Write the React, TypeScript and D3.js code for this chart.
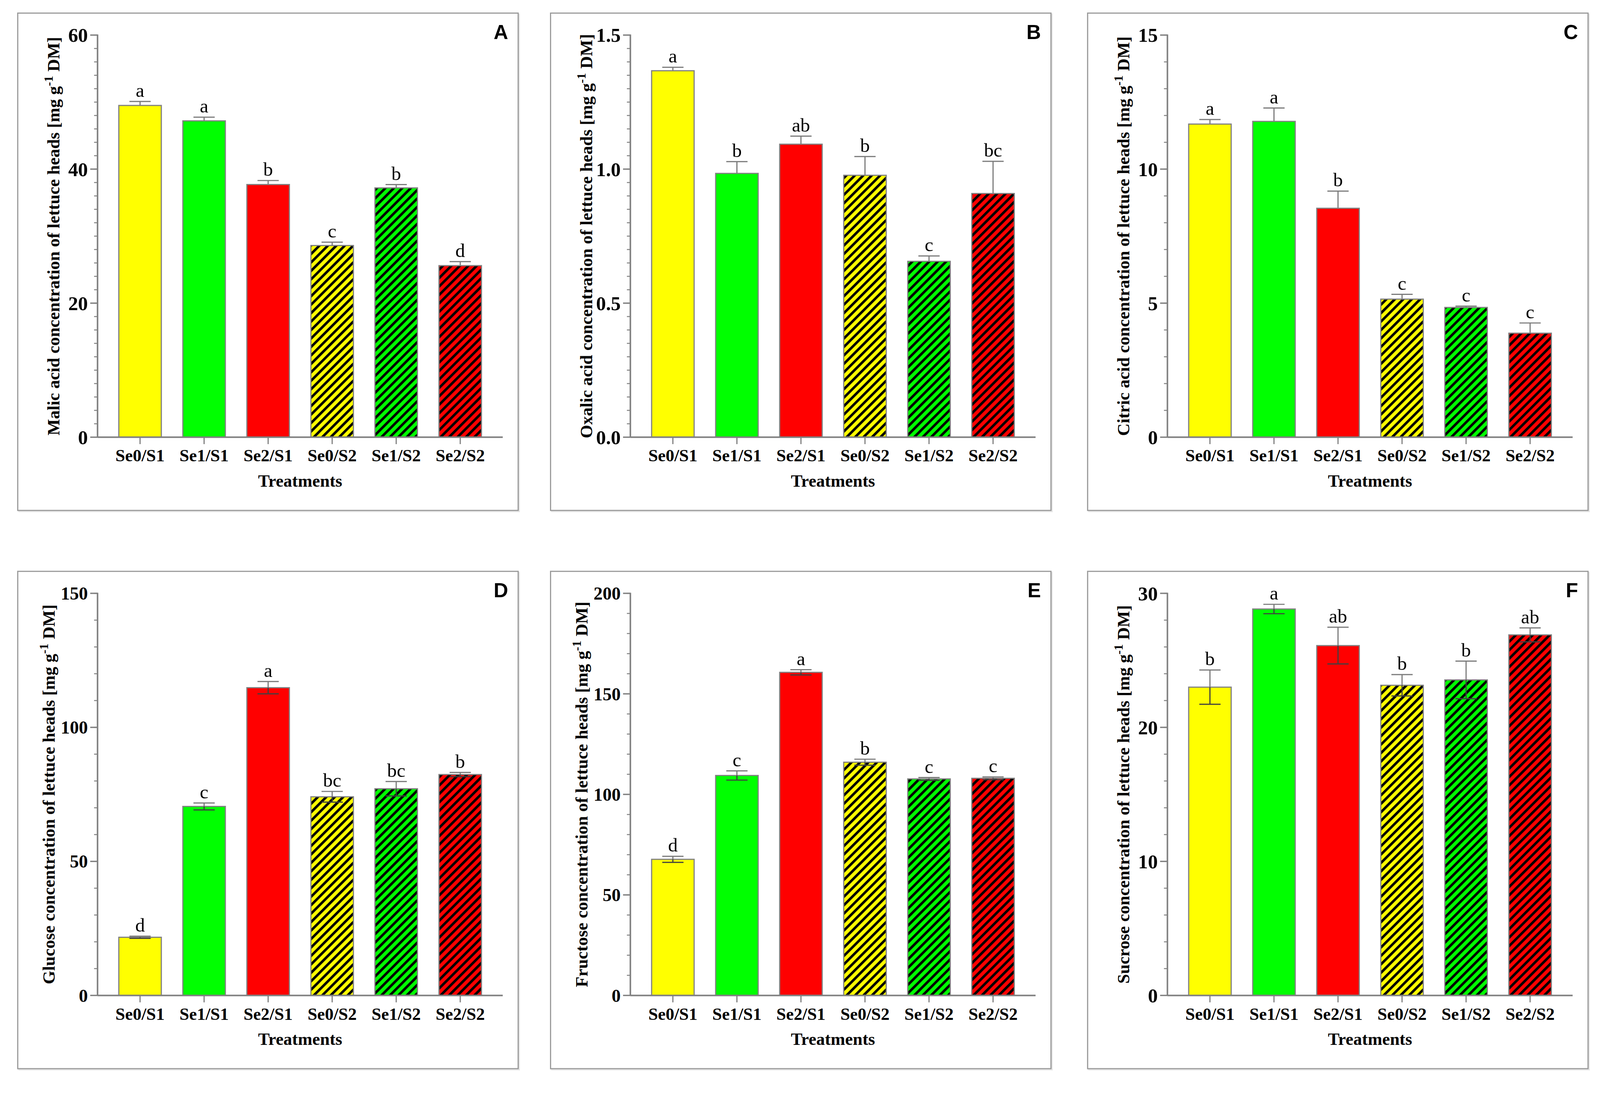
import React from 'react';
import * as d3 from 'd3';

const treatments = ['Se0/S1', 'Se1/S1', 'Se2/S1', 'Se0/S2', 'Se1/S2', 'Se2/S2'];
const barColors = ['#ffff00', '#00ff00', '#ff0000', '#ffff00', '#00ff00', '#ff0000'];
const hatched = [false, false, false, true, true, true];

const malicMean = [49.5, 47.2, 37.7, 28.6, 37.2, 25.6];
const malicErr = [0.6, 0.55, 0.6, 0.5, 0.5, 0.6];
const malicLetters = ['a', 'a', 'b', 'c', 'b', 'd'];

const oxalicMean = [1.367, 0.984, 1.093, 0.977, 0.656, 0.909];
const oxalicErr = [0.013, 0.044, 0.03, 0.07, 0.02, 0.12];
const oxalicLetters = ['a', 'b', 'ab', 'b', 'c', 'bc'];

const citricMean = [11.68, 11.78, 8.54, 5.15, 4.84, 3.88];
const citricErr = [0.17, 0.5, 0.64, 0.18, 0.05, 0.38];
const citricLetters = ['a', 'a', 'b', 'c', 'c', 'c'];

const glucoseMean = [21.7, 70.5, 114.8, 74.1, 77.1, 82.4];
const glucoseErr = [0.4, 1.3, 2.3, 2.0, 2.7, 0.8];
const glucoseLetters = ['d', 'c', 'a', 'bc', 'bc', 'b'];

const fructoseMean = [67.7, 109.4, 160.7, 116.0, 107.7, 108.0];
const fructoseErr = [1.5, 2.3, 1.3, 1.5, 0.7, 0.7];
const fructoseLetters = ['d', 'c', 'a', 'b', 'c', 'c'];

const sucroseMean = [23.0, 28.83, 26.1, 23.14, 23.54, 26.9];
const sucroseErr = [1.28, 0.35, 1.37, 0.8, 1.4, 0.52];
const sucroseLetters = ['b', 'a', 'ab', 'b', 'b', 'ab'];

const panels = [
  {tag: 'A', name: 'Malic acid', max: 60, major: [0, 20, 40, 60], minor: 2, fmt: 'd', mean: malicMean, err: malicErr, letters: malicLetters, both: false},
  {tag: 'B', name: 'Oxalic acid', max: 1.5, major: [0, 0.5, 1.0, 1.5], minor: 0.05, fmt: '.1f', mean: oxalicMean, err: oxalicErr, letters: oxalicLetters, both: false},
  {tag: 'C', name: 'Citric acid', max: 15, major: [0, 5, 10, 15], minor: 1, fmt: 'd', mean: citricMean, err: citricErr, letters: citricLetters, both: false},
  {tag: 'D', name: 'Glucose', max: 150, major: [0, 50, 100, 150], minor: 10, fmt: 'd', mean: glucoseMean, err: glucoseErr, letters: glucoseLetters, both: true},
  {tag: 'E', name: 'Fructose', max: 200, major: [0, 50, 100, 150, 200], minor: 10, fmt: 'd', mean: fructoseMean, err: fructoseErr, letters: fructoseLetters, both: true},
  {tag: 'F', name: 'Sucrose', max: 30, major: [0, 10, 20, 30], minor: 2, fmt: 'd', mean: sucroseMean, err: sucroseErr, letters: sucroseLetters, both: true},
];

const W = 4150;
const H = 2811;
const frameW = 1298;
const frameH = 1290;
const colX = [46, 1428, 2821];
const rowY = [34, 1482];
const plot = {left: 207, right: 1258, top: 57, bottom: 1100};
const axisGray = '#808080';
const serif = '"Liberation Serif", "Times New Roman", serif';

function Panel({p, x0, y0}: {p: typeof panels[number]; x0: number; y0: number}) {
  const x = d3.scaleBand<string>().domain(treatments).range([plot.left, plot.right]).paddingInner(0.336).paddingOuter(0.332);
  const y = d3.scaleLinear().domain([0, p.max]).range([plot.bottom, plot.top]);
  const bw = x.bandwidth();
  const fmt = d3.format(p.fmt);
  const minorTicks = d3.range(0, Math.round(p.max / p.minor) + 1).map(i => i * p.minor);
  const cx = (plot.left + plot.right) / 2;
  const cy = (plot.top + plot.bottom) / 2;
  const wide = fmt(p.max).replace('.', '').length >= 3 && !fmt(p.max).includes('.');
  const tickFont = wide ? 47 : 51;
  const titleX = wide ? 96 : 108;

  return (
    <g transform={`translate(${x0},${y0})`}>
      <rect x={3} y={3} width={frameW} height={frameH} fill="none" stroke="#e6e6e6" strokeWidth={3} />
      <rect x={0} y={0} width={frameW} height={frameH} fill="#fff" stroke="#9a9a9a" strokeWidth={3} />

      {treatments.map((t, i) => {
        const bx = x(t)!;
        const top = y(p.mean[i]);
        const mid = bx + bw / 2;
        const hi = y(p.mean[i] + p.err[i]);
        const lo = y(p.mean[i] - p.err[i]);
        return (
          <g key={t}>
            <line x1={mid} x2={mid} y1={hi} y2={top} stroke="#7a7a7a" strokeWidth={3} />
            <line x1={mid - bw / 4} x2={mid + bw / 4} y1={hi} y2={hi} stroke="#7a7a7a" strokeWidth={3} />
            <rect
              x={bx}
              y={top}
              width={bw}
              height={plot.bottom - top}
              fill={hatched[i] ? `url(#hatch${i % 3})` : barColors[i]}
              stroke={axisGray}
              strokeWidth={3}
            />
            {p.both && (
              <g>
                <line x1={mid} x2={mid} y1={top} y2={lo} stroke="#404040" strokeWidth={3} />
                <line x1={mid - bw / 4} x2={mid + bw / 4} y1={lo} y2={lo} stroke="#404040" strokeWidth={3} />
              </g>
            )}
            <text x={mid} y={hi - 12} textAnchor="middle" fontFamily={serif} fontSize={50} fill="#000">
              {p.letters[i]}
            </text>
            <line x1={mid} x2={mid} y1={plot.bottom} y2={plot.bottom + 18} stroke={axisGray} strokeWidth={3} />
            <text x={mid} y={1163} textAnchor="middle" fontFamily={serif} fontWeight="bold" fontSize={45} fill="#000">
              {t}
            </text>
          </g>
        );
      })}

      <line x1={plot.left} x2={plot.left} y1={plot.top - 1.5} y2={plot.bottom} stroke={axisGray} strokeWidth={4} />
      <line x1={plot.left} x2={plot.right} y1={plot.bottom} y2={plot.bottom} stroke={axisGray} strokeWidth={4} />
      {minorTicks.map(v => (
        <line key={`m${v}`} x1={plot.left - 9} x2={plot.left} y1={y(v)} y2={y(v)} stroke={axisGray} strokeWidth={2.5} />
      ))}
      {p.major.map(v => (
        <g key={`M${v}`}>
          <line x1={plot.left - 19} x2={plot.left} y1={y(v)} y2={y(v)} stroke={axisGray} strokeWidth={3.5} />
          <text x={plot.left - 25} y={y(v)} dy="0.35em" textAnchor="end" fontFamily={serif} fontWeight="bold" fontSize={tickFont} fill="#000">
            {fmt(v)}
          </text>
        </g>
      ))}

      <text x={cx} y={1228} textAnchor="middle" fontFamily={serif} fontWeight="bold" fontSize={45} fill="#000">
        Treatments
      </text>
      <text
        transform={`translate(${titleX},${cy}) rotate(-90)`}
        textAnchor="middle"
        fontFamily={serif}
        fontWeight="bold"
        fontSize={45}
        fill="#000"
      >
        {p.name} concentration of lettuce heads [mg g
        <tspan dy={-17} fontSize={32}>-1</tspan>
        <tspan dy={17}> DM]</tspan>
      </text>
      <text x={1272} y={67} textAnchor="end" fontFamily='"Liberation Sans", Arial, sans-serif' fontWeight="bold" fontSize={52} fill="#000">
        {p.tag}
      </text>
    </g>
  );
}

export default function App() {
  return (
    <svg
      viewBox={`0 0 ${W} ${H}`}
      preserveAspectRatio="xMinYMin meet"
      style={{position: 'fixed', left: 0, top: 0, width: '100vw', height: '100vh', display: 'block', background: '#fff'}}
    >
      <defs>
        {[0, 1, 2].map(i => (
          <pattern key={i} id={`hatch${i}`} patternUnits="userSpaceOnUse" width={15.5} height={15.5} patternTransform="rotate(45)">
            <rect width={15.5} height={15.5} fill={barColors[i]} />
            <rect width={6.5} height={15.5} fill="#000" />
          </pattern>
        ))}
      </defs>
      <rect width={W} height={H} fill="#fff" />
      {panels.map((p, i) => (
        <Panel key={p.tag} p={p} x0={colX[i % 3]} y0={rowY[Math.floor(i / 3)]} />
      ))}
    </svg>
  );
}
